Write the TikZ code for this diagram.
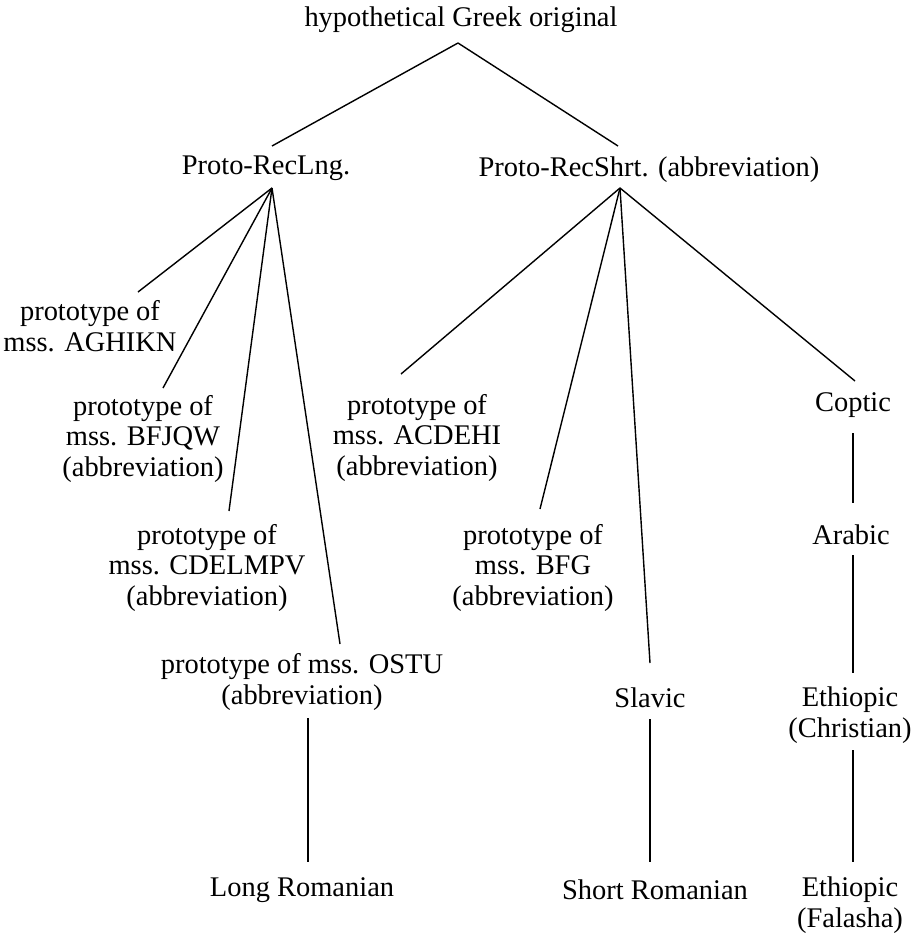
\documentclass[tikz,border=0pt]{standalone}
\usepackage{fontspec}
\setmainfont{Liberation Serif}
\usetikzlibrary{calc}

\tikzset{
  txt/.style={align=center, inner sep=0pt, font=\fontsize{16.2}{17.6}\selectfont},
  link/.style={line width=0.8pt}
}

\begin{document}
\begin{tikzpicture}[x=0.02cm, y=-0.02cm]
   \useasboundingbox (0,0) rectangle (917,933);
   % root and the two recensions
   \node[txt] (greek) at (461,20) {hypothetical Greek original};
   \node[txt] (lng) at (266,168) {Proto-RecLng.};
   \node[txt] (shrt) at (649,170) {Proto-RecShrt. (abbreviation)};
   % long recension
   \node[txt] (agh) at (90,326) {prototype of\\mss. AGHIKN};
   \node[txt] (bfj) at (143,439) {prototype of\\mss. BFJQW\\(abbreviation)};
   \node[txt] (cde) at (207,568) {prototype of\\mss. CDELMPV\\(abbreviation)};
   \node[txt] (ost) at (302,682) {prototype of mss. OSTU\\(abbreviation)};
   \node[txt] (lngrom) at (302,890) {Long Romanian};
   % short recension
   \node[txt] (acd) at (417,438) {prototype of\\mss. ACDEHI\\(abbreviation)};
   \node[txt] (bfg) at (533,568) {prototype of\\mss. BFG\\(abbreviation)};
   \node[txt] (slav) at (650,698) {Slavic};
   \node[txt] (shrom) at (655,890) {Short Romanian};
   \node[txt] (cop) at (853,405) {Coptic};
   \node[txt] (arab) at (851,535) {Arabic};
   \node[txt] (ethc) at (850,715) {Ethiopic\\(Christian)};
   \node[txt] (ethf) at (850,905) {Ethiopic\\(Falasha)};
   % fan points
   \coordinate (gtop) at ($(greek)+(-3,23)$);
   \coordinate (lngin) at ($(lng)+(6,-22)$);
   \coordinate (lngfan) at ($(lng)+(6,20)$);
   \coordinate (shrtin) at ($(shrt)+(-31,-24)$);
   \coordinate (shrtfan) at ($(shrt)+(-29,18)$);
   % connectors
   \draw[link] (gtop) -- (lngin);
   \draw[link] (gtop) -- (shrtin);
   \draw[link] (lngfan) -- ($(agh)+(48,-34)$);
   \draw[link] (lngfan) -- ($(bfj)+(20,-51)$);
   \draw[link] (lngfan) -- ($(cde)+(22,-57)$);
   \draw[link] (lngfan) -- ($(ost)+(38,-38)$);
   \draw[link] ($(ost)+(6,36)$) -- ($(lngrom)+(6,-28)$);
   \draw[link] (shrtfan) -- ($(acd)+(-16,-64)$);
   \draw[link] (shrtfan) -- ($(bfg)+(7,-59)$);
   \draw[link] (shrtfan) -- ($(slav)+(0,-35)$);
   \draw[link] (shrtfan) -- ($(cop)+(2,-24)$);
   \draw[link] ($(slav)+(0,21)$) -- ($(shrom)+(-5,-28)$);
   \draw[link] ($(cop)+(0,28)$) -- ($(arab)+(2,-32)$);
   \draw[link] ($(arab)+(2,20)$) -- ($(ethc)+(3,-42)$);
   \draw[link] ($(ethc)+(3,35)$) -- ($(ethf)+(3,-43)$);
\end{tikzpicture}
\end{document}
